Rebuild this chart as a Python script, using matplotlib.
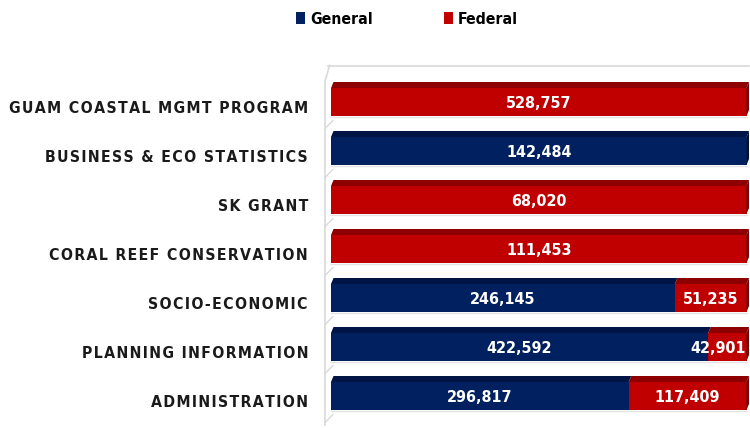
import matplotlib
matplotlib.use("Agg")
import matplotlib.pyplot as plt
from matplotlib.patches import Polygon, Patch
from matplotlib.lines import Line2D

categories = ["ADMINISTRATION", "PLANNING INFORMATION", "SOCIO-ECONOMIC",
              "CORAL REEF CONSERVATION", "SK GRANT", "BUSINESS & ECO STATISTICS",
              "GUAM COASTAL MGMT PROGRAM"]
general = [296817, 422592, 246145, 0, 0, 142484, 0]
federal = [117409, 42901, 51235, 111453, 68020, 0, 528757]
series_names = ["General", "Federal"]

NAVY = "#002060"
NAVY_TOP = "#001445"
NAVY_SIDE = "#000f33"
RED = "#C00000"
RED_TOP = "#8E0000"
RED_SIDE = "#700000"
FONT = ["DejaVu Sans"]
STRETCH = "condensed"

W, H = 750, 428
fig = plt.figure(figsize=(W / 100, H / 100), dpi=100)
x0, x1 = 331, 746.5
ytop, ybot = 77.5, 420.5
ax = fig.add_axes([x0 / W, 1 - ybot / H, (x1 - x0) / W, (ybot - ytop) / H])
ax.set_xlim(0, 1)
ax.set_ylim(-0.5, len(categories) - 0.5)
for s in ax.spines.values():
    s.set_visible(False)
ax.set_xticks([])
ax.set_yticks([])

px_x = 1 / (x1 - x0)
px_y = 1 / 49.0
bh = 28 * px_y
dx, dy = 2.5 * px_x, 6 * px_y

wall = "#d9d9d9"
n = len(categories)
top_y = n - 0.5 + 12 * px_y
ax.add_line(Line2D([-6 * px_x + dx, 1 + dx], [top_y, top_y], color=wall, lw=1.2, clip_on=False))
ax.add_line(Line2D([-6 * px_x, -6 * px_x], [-0.5 - 4 * px_y, top_y - 16 * px_y], color=wall, lw=1.2, clip_on=False))
ax.add_line(Line2D([-6 * px_x, -6 * px_x + dx + 2 * px_x], [top_y - 16 * px_y, top_y], color=wall, lw=1.2, clip_on=False))
for k in range(n):
    yb = k - 0.5 + 4 * px_y
    ax.add_line(Line2D([-6 * px_x, 2 * px_x], [yb - 6 * px_y, yb + 2 * px_y], color=wall, lw=1.0, clip_on=False))
    ax.add_line(Line2D([0, 1], [k - bh / 2 - 1 * px_y] * 2, color="#e4e4e4", lw=1.0, clip_on=False))

totals = [g + f for g, f in zip(general, federal)]
for i, (g, f, t) in enumerate(zip(general, federal, totals)):
    gs, fs = g / t, f / t
    segs = [(0, gs, g, NAVY, NAVY_TOP, NAVY_SIDE), (gs, fs, f, RED, RED_TOP, RED_SIDE)]
    for left, width, val, c, ctop, cside in segs:
        if val == 0:
            continue
        ax.barh(i, width, left=left, height=bh, color=c, edgecolor="none", zorder=3)
        yt = i + bh / 2
        ax.add_patch(Polygon([[left, yt], [left + width, yt], [left + width + dx, yt + dy], [left + dx, yt + dy]],
                             closed=True, facecolor=ctop, edgecolor="none", zorder=3, clip_on=False))
    last = RED_SIDE if f > 0 else NAVY_SIDE
    ax.add_patch(Polygon([[1, i - bh / 2], [1 + dx, i - bh / 2 + dy], [1 + dx, i + bh / 2 + dy], [1, i + bh / 2]],
                         closed=True, facecolor=last, edgecolor="none", zorder=3, clip_on=False))
    for left, width, val in [(0, gs, g), (gs, fs, f)]:
        if val == 0:
            continue
        xc = left + width / 2
        ha = "center"
        if width < 0.12:
            xc, ha = 1 - 1 * px_x, "right"
        ax.text(xc, i - 1.5 * px_y, f"{val:,}", ha=ha, va="center",
                color="white", fontsize=11.5, fontweight="bold", fontstretch=STRETCH,
                family=FONT, zorder=5, clip_on=False)
    # category label (letter-spaced)
    ax.text(-23 * px_x, i - 6.5 * px_y, "\u200a".join(categories[i]), ha="right", va="center",
            fontsize=11.3, fontweight="bold", fontstretch=STRETCH, family=FONT,
            color="#1a1a1a", clip_on=False)

handles = [Patch(facecolor=NAVY), Patch(facecolor=RED)]
leg = fig.legend(handles, series_names, loc="center", bbox_to_anchor=(407 / W, 1 - 19 / H), ncol=2,
                 frameon=False, handlelength=0.58, handleheight=0.85, handletextpad=0.35, columnspacing=4.5,
                 prop={"family": FONT, "size": 11.3, "weight": "bold", "stretch": STRETCH})

fig.savefig("out.png", dpi=100)
